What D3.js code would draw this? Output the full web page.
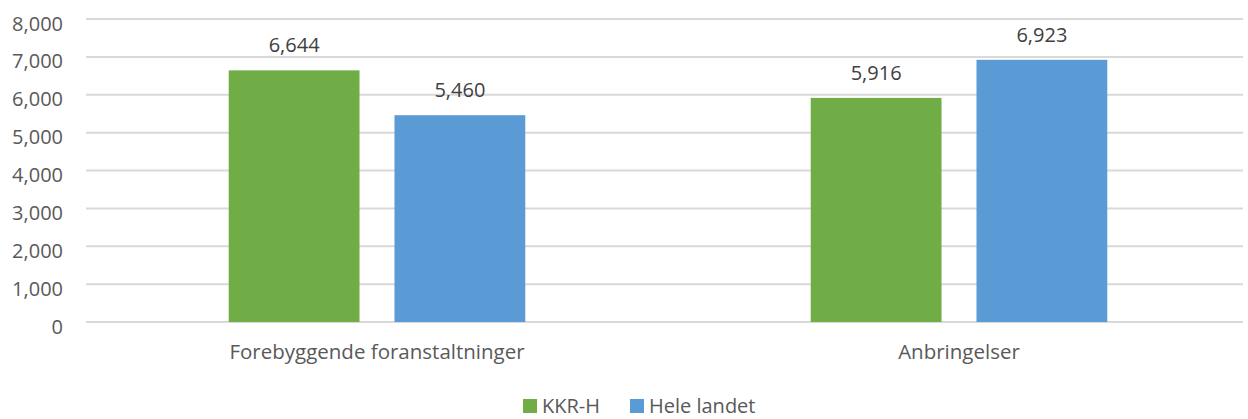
<!DOCTYPE html>
<html>
<head>
<meta charset="utf-8">
<script src="https://cdn.jsdelivr.net/npm/d3@7"></script>
<style>
  body { margin: 0; background: #fff; }
  text { font-family: "Open Sans", sans-serif; }
</style>
</head>
<body>
<script>
// data
var categories = ["Forebyggende foranstaltninger", "Anbringelser"];
var seriesNames = ["KKR-H", "Hele landet"];
var kkrValues = [6644, 5916];
var heleValues = [5460, 6923];
var yTicks = [0, 1000, 2000, 3000, 4000, 5000, 6000, 7000, 8000];
var colors = ["#70ad47", "#5b9bd5"];

var width = 1248, height = 419;
var plot = {left: 86, right: 1250, top: 19, bottom: 322};

var svg = d3.select("body").append("svg")
    .attr("width", width)
    .attr("height", height);

var x0 = d3.scaleBand().domain(categories).range([plot.left, plot.right]);
var x1 = d3.scaleBand().domain(seriesNames)
    .range([0, x0.bandwidth()])
    .paddingInner(0.211)
    .paddingOuter(0.861);
var y = d3.scaleLinear().domain([0, 8000]).range([plot.bottom, plot.top]);

var fmt = d3.format(",");

// gridlines
svg.append("g")
  .selectAll("line")
  .data(yTicks)
  .enter().append("line")
    .attr("x1", plot.left)
    .attr("x2", 1243)
    .attr("y1", function(d) { return y(d); })
    .attr("y2", function(d) { return y(d); })
    .attr("stroke", "#d9d9d9")
    .attr("stroke-width", 2);

// y axis labels
var yAxis = svg.append("g")
    .attr("transform", "translate(63,0)")
    .call(d3.axisLeft(y).tickValues(yTicks).tickFormat(fmt).tickSize(0).tickPadding(0));
yAxis.select(".domain").remove();
yAxis.selectAll("text")
    .attr("dy", "0.55em")
    .style("font-size", "20px")
    .attr("fill", "#595959");

// bars
var data = categories.map(function(c, i) {
  return {cat: c, vals: [
    {name: seriesNames[0], v: kkrValues[i]},
    {name: seriesNames[1], v: heleValues[i]}
  ]};
});

var groups = svg.selectAll(".grp")
    .data(data)
  .enter().append("g")
    .attr("class", "grp")
    .attr("transform", function(d) { return "translate(" + x0(d.cat) + ",0)"; });

groups.selectAll("rect")
    .data(function(d) { return d.vals; })
  .enter().append("rect")
    .attr("x", function(d) { return x1(d.name); })
    .attr("y", function(d) { return y(d.v); })
    .attr("width", x1.bandwidth())
    .attr("height", function(d) { return plot.bottom - y(d.v); })
    .attr("fill", function(d, i) { return colors[i]; });

groups.selectAll(".lbl")
    .data(function(d) { return d.vals; })
  .enter().append("text")
    .attr("class", "lbl")
    .attr("x", function(d) { return x1(d.name) + x1.bandwidth() / 2; })
    .attr("y", function(d) { return y(d.v) - 18; })
    .attr("text-anchor", "middle")
    .style("font-size", "20px")
    .attr("fill", "#404040")
    .text(function(d) { return fmt(d.v); });

// category labels
svg.append("g")
  .selectAll("text")
  .data(categories)
  .enter().append("text")
    .attr("x", function(d) { return x0(d) + x0.bandwidth() / 2; })
    .attr("y", 359)
    .attr("text-anchor", "middle")
    .style("font-size", "20.5px")
    .attr("fill", "#595959")
    .text(function(d) { return d; });

// legend
var legendX = [523, 630];
var legend = svg.selectAll(".leg")
    .data(seriesNames)
  .enter().append("g")
    .attr("class", "leg")
    .attr("transform", function(d, i) { return "translate(" + legendX[i] + ",399)"; });
legend.append("rect")
    .attr("width", 14)
    .attr("height", 14)
    .attr("fill", function(d, i) { return colors[i]; });
legend.append("text")
    .attr("x", 19)
    .attr("y", 14)
    .style("font-size", "20px")
    .attr("fill", "#595959")
    .text(function(d) { return d; });
</script>
</body>
</html>
